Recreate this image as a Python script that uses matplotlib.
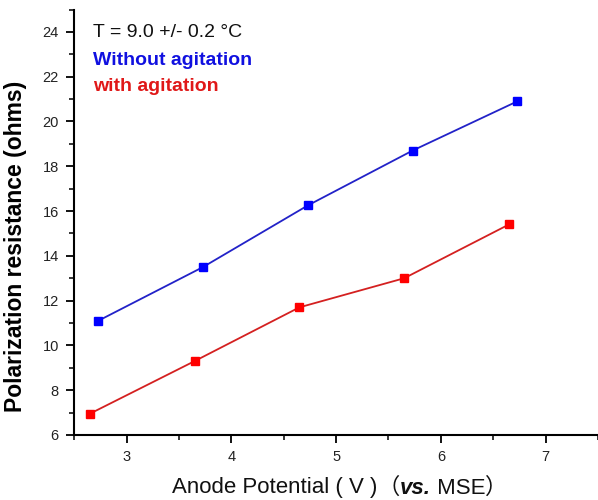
import matplotlib
matplotlib.use("Agg")
import matplotlib.pyplot as plt
from matplotlib.ticker import MultipleLocator
from matplotlib.offsetbox import TextArea, HPacker, AnnotationBbox

plt.rcParams['font.family'] = ['Liberation Sans', 'Noto Sans CJK SC', 'DejaVu Sans']

x_without = [2.73, 3.73, 4.73, 5.73, 6.73]
r_without = [11.1, 13.5, 16.25, 18.7, 20.9]
x_with = [2.65, 3.65, 4.65, 5.65, 6.65]
r_with = [6.95, 9.3, 11.7, 13.0, 15.4]

fig = plt.figure(figsize=(5.98, 5.0), dpi=100)
ax = fig.add_axes([0.124, 0.13, 0.876, 0.851])

ax.plot(x_without, r_without, color='#2222c8', lw=1.3, marker='s', ms=5.5,
        mfc='#0000ff', mec='#0000ff', zorder=3)
ax.plot(x_with, r_with, color='#d42020', lw=1.3, marker='s', ms=5.5,
        mfc='#ff0000', mec='#ff0000', zorder=3)

ax.set_xlim(2.5, 7.5)
ax.set_ylim(6, 25)
ax.xaxis.set_minor_locator(MultipleLocator(0.5))
ax.yaxis.set_minor_locator(MultipleLocator(1))
ax.set_xticks([3, 4, 5, 6, 7])
ax.set_yticks([6, 8, 10, 12, 14, 16, 18, 20, 22, 24])

for s in ['top', 'right']:
    ax.spines[s].set_visible(False)
for s in ['left', 'bottom']:
    ax.spines[s].set_linewidth(1.5)
ax.tick_params(which='major', direction='out', length=6, width=1.3,
               labelsize=10.5, labelcolor='#222222', pad=5)
ax.tick_params(which='minor', direction='out', length=3.5, width=1.1)

ax.set_ylabel('Polarization resistance (ohms)', fontsize=16.5, fontweight='bold')
ax.yaxis.set_label_coords(-0.09, 0.444)

ax.text(0.036, 0.947, 'T = 9.0 +/- 0.2 °C', transform=ax.transAxes,
        fontsize=14, color='#111111', va='center', ha='left')
ax.text(0.036, 0.881, 'Without agitation', transform=ax.transAxes,
        fontsize=14, color='#1010e0', va='center', ha='left', fontweight='bold')
ax.text(0.036, 0.818, 'with agitation', transform=ax.transAxes,
        fontsize=14, color='#e01818', va='center', ha='left', fontweight='bold')

fam = ['Liberation Sans', 'Noto Sans CJK SC', 'DejaVu Sans']
fs = 16
t1 = TextArea('Anode Potential ( V )', textprops=dict(fontsize=fs, family=fam, color='#111111'))
t2 = TextArea('（', textprops=dict(fontsize=fs, family=['Noto Sans CJK SC'], color='#111111'))
t3 = TextArea('vs.', textprops=dict(fontsize=fs, family=fam, fontweight='bold',
                                    fontstyle='italic', color='#111111'))
t4 = TextArea(' MSE', textprops=dict(fontsize=fs, family=fam, color='#111111'))
t5 = TextArea('）', textprops=dict(fontsize=fs, family=['Noto Sans CJK SC'], color='#111111'))
pack = HPacker(children=[t1, t2, t3, t4, t5], align='baseline', pad=0, sep=0)
ab = AnnotationBbox(pack, (340 / 598, 1 - 487 / 500), xycoords='figure fraction',
                    frameon=False, box_alignment=(0.5, 0.5))
fig.add_artist(ab)

fig.savefig('out.png', dpi=100)
